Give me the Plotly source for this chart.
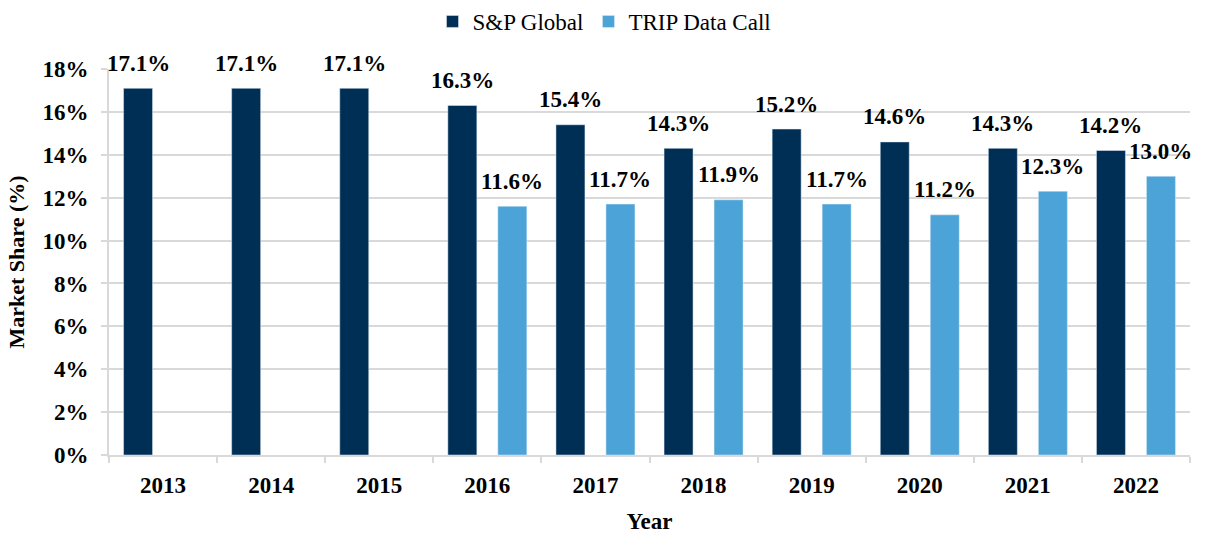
import plotly.graph_objects as go

years = ["2013", "2014", "2015", "2016", "2017", "2018", "2019", "2020", "2021", "2022"]
sp_global = [17.1, 17.1, 17.1, 16.3, 15.4, 14.3, 15.2, 14.6, 14.3, 14.2]
trip_data = [None, None, None, 11.6, 11.7, 11.9, 11.7, 11.2, 12.3, 13.0]

DARK = "#002F56"
LIGHT = "#4BA3D7"
FONT = "Liberation Serif"

fig = go.Figure()
fig.add_trace(go.Bar(name="S&P Global", x=years, y=sp_global, marker_color=DARK))
fig.add_trace(go.Bar(name="TRIP Data Call", x=years, y=trip_data, marker_color=LIGHT))

annotations = []
for vals, shift in ((sp_global, -25), (trip_data, 25)):
    for i, v in enumerate(vals):
        if v is None:
            continue
        annotations.append(dict(
            x=i, y=v, xref="x", yref="y", text=f"{v:.1f}%", showarrow=False,
            xshift=shift, yshift=25, yanchor="middle",
            font=dict(family=FONT, size=23, color="black", weight="bold"),
        ))

fig.update_layout(
    barmode="group",
    bargap=0.075,
    bargroupgap=0.42,
    width=1209, height=535,
    margin=dict(l=109, r=19, t=69, b=80, autoexpand=False),
    plot_bgcolor="white", paper_bgcolor="white",
    font=dict(family=FONT, size=23, color="black"),
    legend=dict(orientation="h", x=0.5, xref="container", xanchor="center",
                y=1.0, yref="container", yanchor="top",
                font=dict(family=FONT, size=23, color="black"),
                traceorder="normal"),
    annotations=annotations,
    xaxis=dict(
        type="category", range=[-0.5, len(years) - 0.5],
        title=dict(text="<b>Year</b>", font=dict(size=23), standoff=16),
        tickfont=dict(family=FONT, size=23, color="black", weight="bold"),
        showline=True, linecolor="#D9D9D9", linewidth=2,
        ticks="outside", tickson="boundaries", ticklen=6, tickcolor="#D9D9D9", tickwidth=2,
        ticklabelstandoff=8,
    ),
    yaxis=dict(
        title=dict(text="<b>Market Share (%)</b>", font=dict(size=22), standoff=12),
        range=[0, 18], dtick=2, ticksuffix="%",
        tickfont=dict(family=FONT, size=23, color="black", weight="bold"),
        showgrid=True, gridcolor="#D9D9D9", gridwidth=2,
        showline=True, linecolor="#D9D9D9", linewidth=2,
        ticks="outside", ticklen=6, tickcolor="#D9D9D9", tickwidth=2,
        ticklabelstandoff=8, zeroline=False,
    ),
)

fig.write_html("out.html", config={"displayModeBar": False},
               post_script="document.body.style.margin='0';")
